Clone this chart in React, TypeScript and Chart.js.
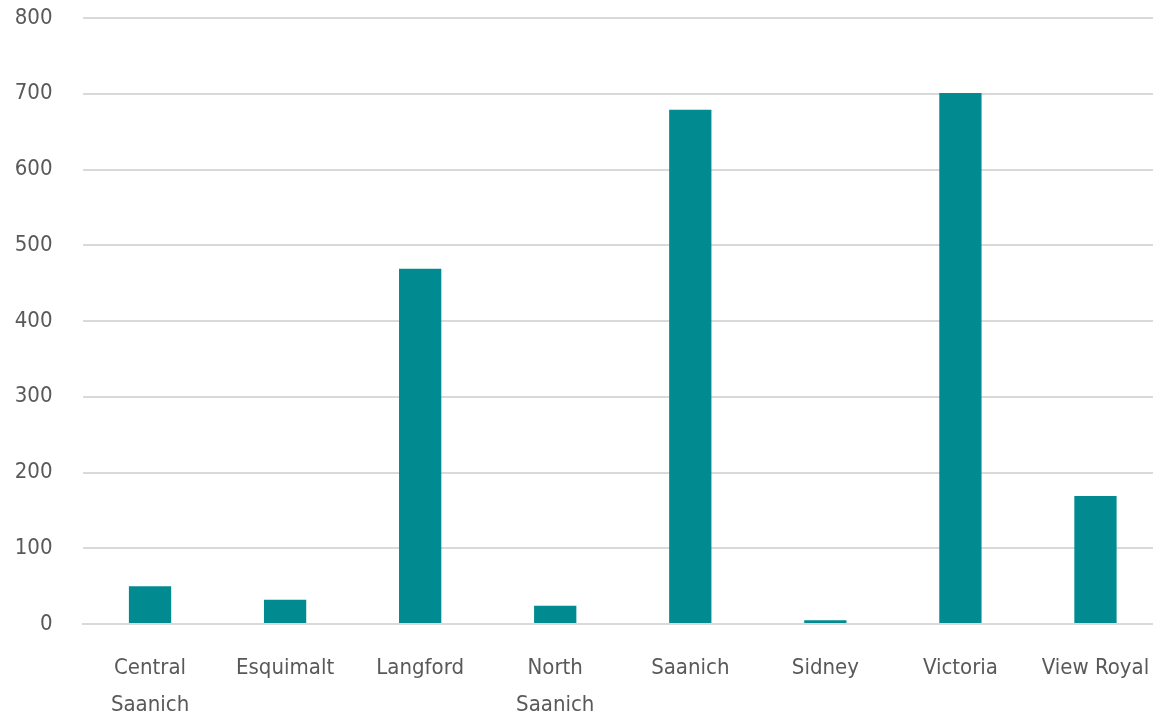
import React, { useEffect, useRef } from "react";
import { Chart, registerables } from "chart.js";

Chart.register(...registerables);

const categories: (string | string[])[] = [
  ["Central", "Saanich"],
  "Esquimalt",
  "Langford",
  ["North", "Saanich"],
  "Saanich",
  "Sidney",
  "Victoria",
  "View Royal",
];
const values = [50, 32, 469, 24, 679, 5, 701, 169];
const yTicks = [0, 100, 200, 300, 400, 500, 600, 700, 800];

const FONT = "'Liberation Sans Narrow', 'DejaVu Sans Condensed', sans-serif";

export default function App() {
  const ref = useRef<HTMLCanvasElement | null>(null);
  useEffect(() => {
    document.body.style.margin = "0";
    if (!ref.current) return;
    const chart = new Chart(ref.current, {
      type: "bar",
      data: {
        labels: categories,
        datasets: [
          {
            data: values,
            backgroundColor: "#028a91",
            barPercentage: 0.313,
            categoryPercentage: 1,
          },
        ],
      },
      options: {
        responsive: false,
        animation: false,
        maintainAspectRatio: false,
        layout: { padding: { top: 18, right: 0, left: 0, bottom: 0 } },
        plugins: { legend: { display: false }, tooltip: { enabled: false } },
        scales: {
          x: {
            grid: {
              display: true,
              drawOnChartArea: false,
              drawTicks: true,
              tickLength: 26,
              tickColor: "rgba(0,0,0,0)",
              color: "rgba(0,0,0,0)",
            },
            border: { display: true, color: "#d9d9d9", width: 2 },
            ticks: {
              color: "#595959",
              font: { family: FONT, size: 22, lineHeight: 1.68 },
              padding: 0,
              maxRotation: 0,
              autoSkip: false,
            },
            afterFit: (s: any) => {
              s.height = 94;
            },
          },
          y: {
            min: 0,
            max: 800,
            afterBuildTicks: (s: any) => {
              s.ticks = yTicks.map((v) => ({ value: v }));
            },
            grid: {
              color: "#d9d9d9",
              lineWidth: 2,
              drawTicks: true,
              tickLength: 30,
              tickColor: "rgba(0,0,0,0)",
            },
            border: { display: false },
            ticks: {
              color: "#595959",
              font: { family: FONT, size: 22 },
              padding: 0,
            },
            afterFit: (s: any) => {
              s.width = 82.5;
            },
          },
        },
      },
    });
    return () => chart.destroy();
  }, []);
  return (
    <div style={{ position: "relative", width: 1153, height: 718, overflow: "hidden" }}>
      <canvas ref={ref} width={1163} height={718} style={{ display: "block" }} />
    </div>
  );
}
